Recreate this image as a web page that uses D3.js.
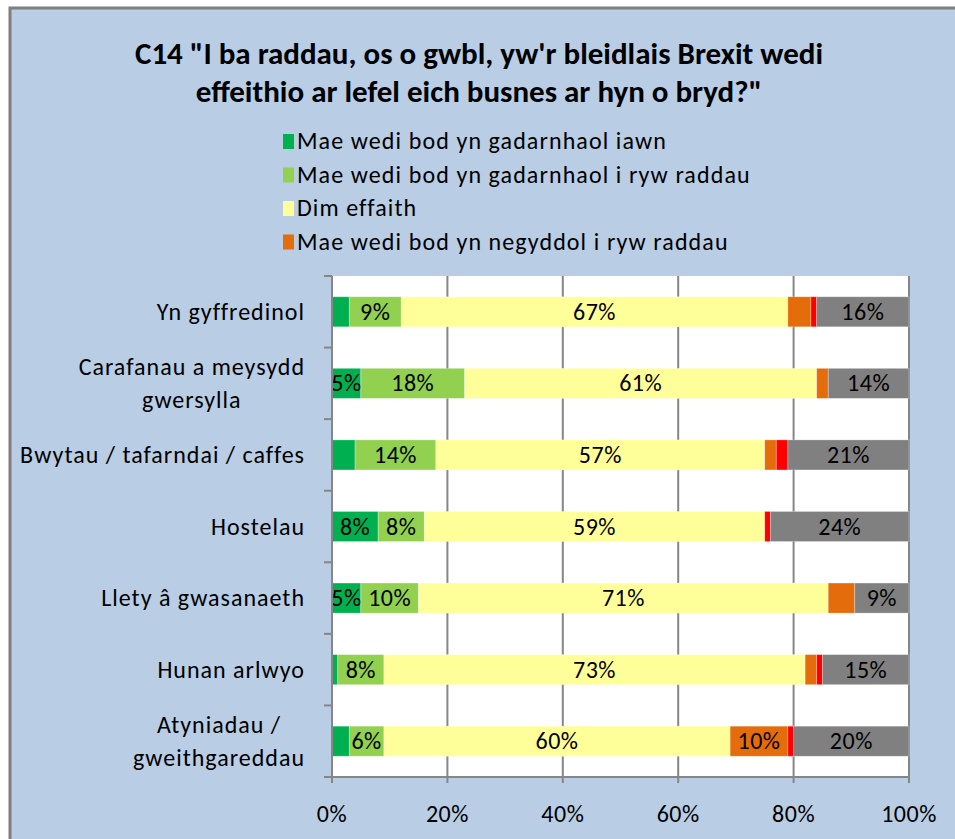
<!DOCTYPE html>
<html>
<head>
<meta charset="utf-8">
<script src="https://cdn.jsdelivr.net/npm/d3@7"></script>
<style>
  body { margin: 0; background: #fff; }
  svg { display: block; font-family: Carlito, Lato, "Open Sans", sans-serif; }
</style>
</head>
<body>
<svg id="chart" width="955" height="839"></svg>
<script>
// categories top to bottom
const categories = [
  "Yn gyffredinol",
  "Carafanau a meysydd gwersylla",
  "Bwytau / tafarndai / caffes",
  "Hostelau",
  "Llety â gwasanaeth",
  "Hunan arlwyo",
  "Atyniadau / gweithgareddau"
];
// how labels wrap on the axis
const categoryLines = [
  ["Yn gyffredinol"],
  ["Carafanau a meysydd", "gwersylla"],
  ["Bwytau / tafarndai / caffes"],
  ["Hostelau"],
  ["Llety â gwasanaeth"],
  ["Hunan arlwyo"],
  ["Atyniadau /", "gweithgareddau"]
];
const seriesNames = [
  "Mae wedi bod yn gadarnhaol iawn",
  "Mae wedi bod yn gadarnhaol i ryw raddau",
  "Dim effaith",
  "Mae wedi bod yn negyddol i ryw raddau",
  "Mae wedi bod yn negyddol iawn",
  "Ddim yn gwybod"
];
const seriesColors = ["#00b050", "#92d050", "#ffff99", "#e46c0a", "#ff0000", "#808080"];

// percentages, one array per series, in category order
const positiveVery   = [3, 5, 4, 8, 5, 1, 3];
const positiveSome   = [9, 18, 14, 8, 10, 8, 6];
const noEffect       = [67, 61, 57, 59, 71, 73, 60];
const negativeSome   = [4, 2, 2, 0, 4.6, 2, 10];
const negativeVery   = [1, 0, 2, 1, 0, 1, 1];
const dontKnow       = [16, 14, 21, 24, 9.4, 15, 20];
const allSeries = [positiveVery, positiveSome, noEffect, negativeSome, negativeVery, dontKnow];

const xTicks = [0, 20, 40, 60, 80, 100];
const titleLines = [
  "C14 \"I ba raddau, os o gwbl, yw'r bleidlais Brexit wedi",
  "effeithio ar lefel eich busnes ar hyn o bryd?\""
];

const svg = d3.select("#chart");

// chart area frame
svg.append("rect").attr("x", 10).attr("y", 8).attr("width", 960).attr("height", 850)
  .attr("fill", "#b9cde5").attr("stroke", "#7f7f7f").attr("stroke-width", 3);

// title
svg.append("g").selectAll("text").data(titleLines).enter().append("text")
  .attr("x", 479).attr("y", (d, i) => 64 + i * 38)
  .attr("text-anchor", "middle")
  .attr("font-size", 31).attr("font-weight", "bold").attr("fill", "#000")
  .text(d => d);

// legend (only first four entries fit in the frame)
const legend = svg.append("g").selectAll("g").data(seriesNames.slice(0, 4)).enter().append("g")
  .attr("transform", (d, i) => `translate(283,${131 + i * 33.5})`);
legend.append("rect").attr("width", 11).attr("height", 15).attr("y", 3)
  .attr("fill", (d, i) => seriesColors[i]);
legend.append("text").attr("x", 14).attr("y", 18)
  .attr("font-size", 24).attr("letter-spacing", 1.1).text(d => d);

const margin = { left: 332, right: 909, top: 276, bottom: 777 };
const x = d3.scaleLinear().domain([0, 100]).range([margin.left, margin.right]);
const y = d3.scaleBand().domain(categories).range([margin.top, margin.bottom]).paddingInner(0.58).paddingOuter(0.29);

// plot area
svg.append("rect").attr("x", margin.left).attr("y", margin.top)
  .attr("width", margin.right - margin.left).attr("height", margin.bottom - margin.top)
  .attr("fill", "#fff");

// gridlines
svg.append("g").selectAll("line").data(xTicks.slice(1)).enter().append("line")
  .attr("x1", d => x(d)).attr("x2", d => x(d))
  .attr("y1", margin.top).attr("y2", margin.bottom)
  .attr("stroke", "#868686").attr("stroke-width", 2);

// stacked data
const table = categories.map((c, i) => {
  const row = { category: c };
  allSeries.forEach((s, j) => row["s" + j] = s[i]);
  return row;
});
const stack = d3.stack().keys(allSeries.map((s, j) => "s" + j));
const layers = stack(table);

const layerG = svg.append("g").selectAll("g").data(layers).enter().append("g")
  .attr("fill", (d, i) => seriesColors[i]);
layerG.selectAll("rect").data(d => d).enter().append("rect")
  .attr("x", d => x(d[0]))
  .attr("y", d => y(d.data.category))
  .attr("width", d => x(d[1]) - x(d[0]))
  .attr("height", y.bandwidth())
  .attr("stroke", "rgba(255,255,255,0.35)").attr("stroke-width", 0.8);

// data labels
layerG.selectAll("text").data(d => d.filter(v => v[1] - v[0] >= 5)).enter().append("text")
  .attr("x", d => (x(d[0]) + x(d[1])) / 2)
  .attr("y", d => y(d.data.category) + y.bandwidth() / 2 + 8)
  .attr("text-anchor", "middle").attr("font-size", 24).attr("letter-spacing", 0.5)
  .attr("fill", "#000")
  .text(d => Math.round(d[1] - d[0]) + "%");

// y axis
const yAxis = svg.append("g");
yAxis.append("line").attr("x1", margin.left).attr("x2", margin.left)
  .attr("y1", margin.top).attr("y2", margin.bottom + 6)
  .attr("stroke", "#868686").attr("stroke-width", 2);
yAxis.selectAll("line.tick").data(d3.range(categories.length + 1)).enter().append("line")
  .attr("class", "tick")
  .attr("x1", margin.left - 8).attr("x2", margin.left)
  .attr("y1", i => margin.top + i * (margin.bottom - margin.top) / categories.length)
  .attr("y2", i => margin.top + i * (margin.bottom - margin.top) / categories.length)
  .attr("stroke", "#868686").attr("stroke-width", 2);
categories.forEach((c, i) => {
  const lines = categoryLines[i];
  const cy = y(c) + y.bandwidth() / 2;
  const t = yAxis.append("text").attr("text-anchor", "middle")
    .attr("font-size", 24).attr("letter-spacing", 1.0).attr("fill", "#000");
  lines.forEach((l, k) => {
    t.append("tspan").attr("x", 0).attr("y", cy + 8 + (k - (lines.length - 1) / 2) * 33).text(l);
  });
  // right align whole block, center lines within it
  const bb = t.node().getBBox();
  t.selectAll("tspan").attr("x", 305 - bb.width / 2);
});

// x axis
svg.append("line").attr("x1", margin.left - 8).attr("x2", margin.right)
  .attr("y1", margin.bottom).attr("y2", margin.bottom)
  .attr("stroke", "#868686").attr("stroke-width", 2);
svg.append("g").selectAll("line").data(xTicks).enter().append("line")
  .attr("x1", d => x(d)).attr("x2", d => x(d))
  .attr("y1", margin.bottom).attr("y2", margin.bottom + 6)
  .attr("stroke", "#868686").attr("stroke-width", 2);
svg.append("g").selectAll("text").data(xTicks).enter().append("text")
  .attr("x", d => x(d)).attr("y", 822)
  .attr("text-anchor", "middle").attr("font-size", 24).attr("letter-spacing", 0.5)
  .text(d => d + "%");
</script>
</body>
</html>
